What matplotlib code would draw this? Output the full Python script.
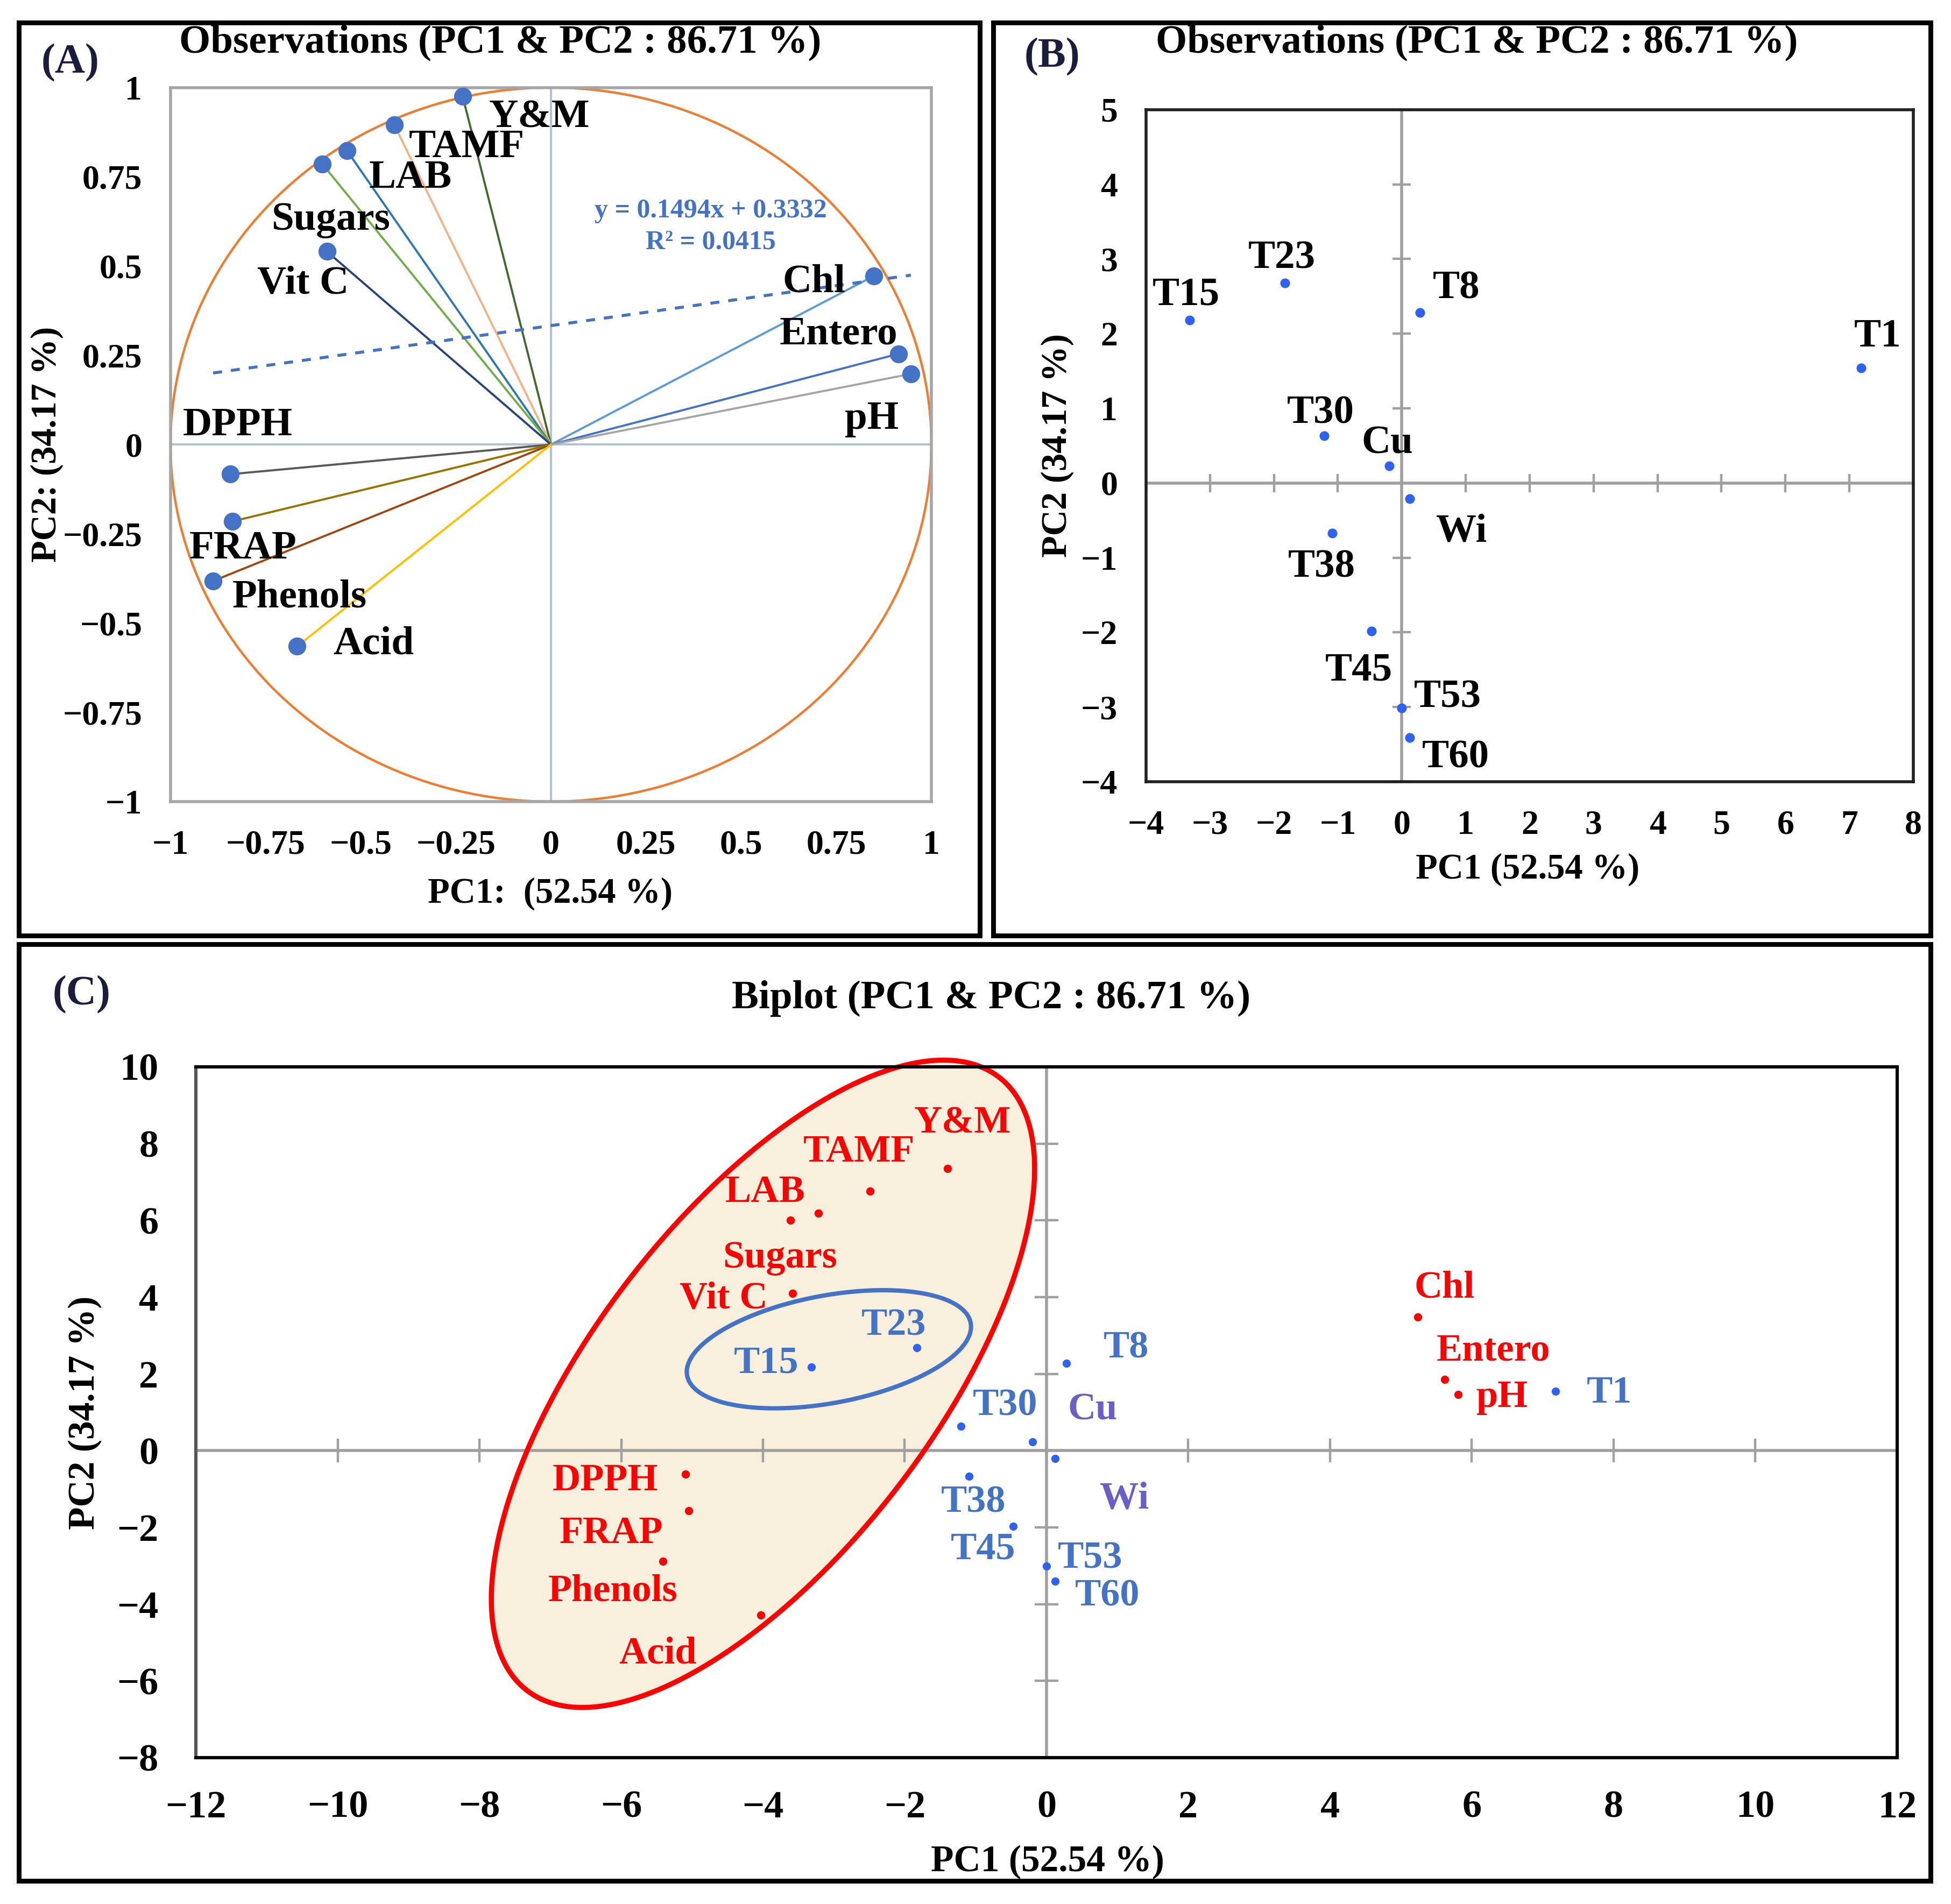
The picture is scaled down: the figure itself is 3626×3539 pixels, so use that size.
import numpy as np
import matplotlib.pyplot as plt
from matplotlib.patches import Rectangle, Polygon

plt.rcParams['font.family'] = ['Liberation Serif', 'DejaVu Serif']
plt.rcParams['font.weight'] = 'bold'
plt.rcParams['axes.unicode_minus'] = True

# ---- data ----
# variable loadings (correlation circle, panel A)
var_names = ['Y&M', 'TAMF', 'LAB', 'Sugars', 'Vit C', 'Chl', 'Entero', 'pH',
             'DPPH', 'FRAP', 'Phenols', 'Acid']
load_pc1 = [-0.232, -0.412, -0.536, -0.601, -0.589, 0.848, 0.913, 0.946,
            -0.843, -0.837, -0.888, -0.667]
load_pc2 = [0.975, 0.896, 0.823, 0.786, 0.541, 0.472, 0.254, 0.198,
            -0.083, -0.215, -0.382, -0.565]
trend_slope = 0.1494
trend_intercept = 0.3332
trend_r2 = 0.0415

# observation scores (panels B and C)
obs_names = ['T1', 'T8', 'T15', 'T23', 'T30', 'T38', 'T45', 'T53', 'T60', 'Cu', 'Wi']
obs_pc1 = [7.18, 0.28, -3.32, -1.83, -1.21, -1.09, -0.47, 0.00, 0.12, -0.20, 0.12]
obs_pc2 = [1.54, 2.28, 2.18, 2.68, 0.63, -0.67, -1.98, -3.01, -3.41, 0.23, -0.21]

# variables as placed in the biplot (panel C)
bi_pc1 = [-1.40, -2.49, -3.22, -3.61, -3.58, 5.24, 5.62, 5.81,
          -5.09, -5.05, -5.41, -4.03]
bi_pc2 = [7.35, 6.76, 6.18, 6.00, 4.09, 3.48, 1.85, 1.46,
          -0.61, -1.57, -2.88, -4.28]

pc1_txt = '52.54 %'
pc2_txt = '34.17 %'
tot_txt = '86.71 %'

# ---- styling / layout ----
vec_colors = ['#43682b', '#f4b183', '#2e75b6', '#70ad47', '#264478', '#5b9bd5',
              '#4472c4', '#a5a5a5', '#595959', '#997300', '#9e480e', '#ffc000']
# label offsets (data units) for panel A
a_off = {'Y&M': (0.069, -0.059), 'TAMF': (0.039, -0.064), 'LAB': (0.058, -0.076),
         'Sugars': (-0.134, -0.157), 'Vit C': (-0.183, -0.090), 'Chl': (-0.239, -0.017),
         'Entero': (-0.312, 0.054), 'pH': (-0.174, -0.127), 'DPPH': (-0.125, 0.137),
         'FRAP': (-0.114, -0.077), 'Phenols': (0.050, -0.046), 'Acid': (0.094, 0.005)}
b_off = {'T1': (-0.11, 0.42), 'T8': (0.20, 0.32), 'T15': (-0.58, 0.34),
         'T23': (-0.57, 0.33), 'T30': (-0.59, 0.30), 'T38': (-0.69, -0.46),
         'T45': (-0.73, -0.53), 'T53': (0.19, 0.14), 'T60': (0.20, -0.27),
         'Cu': (-0.43, 0.30), 'Wi': (0.42, -0.44)}
c_off_obs = {'T1': (0.44, -0.05), 'T8': (0.52, 0.38), 'T15': (-1.09, 0.10),
             'T23': (-0.78, 0.58), 'T30': (0.17, 0.54), 'T38': (-0.40, -0.69),
             'T45': (-0.88, -0.60), 'T53': (0.16, 0.20), 'T60': (0.28, -0.38),
             'Cu': (0.50, 0.82), 'Wi': (0.63, -1.05)}
c_off_var = {'Y&M': (-0.47, 1.18), 'TAMF': (-0.94, 1.02), 'LAB': (-1.31, 0.55),
             'Sugars': (-0.96, -0.99), 'Vit C': (-1.60, -0.13), 'Chl': (-0.05, 0.76),
             'Entero': (-0.12, 0.75), 'pH': (0.25, -0.07), 'DPPH': (-1.88, -0.18),
             'FRAP': (-1.82, -0.59), 'Phenols': (-1.62, -0.79), 'Acid': (-2.00, -1.02)}


def fmt(v):
    s = '{:g}'.format(v)
    return s.replace('-', '\u2212')


fig = plt.figure(figsize=(18.13, 17.695), dpi=200)

# panel frames
for (x0, y0, x1, y1) in [(0.0097, 0.5086, 0.5022, 0.988),
                         (0.509, 0.5086, 0.9895, 0.988),
                         (0.0097, 0.0122, 0.9895, 0.504)]:
    fig.add_artist(Rectangle((x0, y0), x1 - x0, y1 - y0, transform=fig.transFigure,
                             fill=False, ec='black', lw=3.2))

# ---------------- Panel A ----------------
axA = fig.add_axes([0.0874, 0.579, 0.39, 0.375])
axA.set_xlim(-1, 1)
axA.set_ylim(-1, 1)
for s in axA.spines.values():
    s.set_color('#a6a6a6')
    s.set_linewidth(2)
axA.axhline(0, color='#b4c0d4', lw=1.5, zorder=1)
axA.axvline(0, color='#b4c0d4', lw=1.5, zorder=1)
t = np.linspace(0, 2 * np.pi, 400)
axA.plot(np.cos(t), np.sin(t), color='#ed7d31', lw=1.6, zorder=2)
for x, y, c in zip(load_pc1, load_pc2, vec_colors):
    axA.plot([0, x], [0, y], color=c, lw=1.4, zorder=3)
axA.plot(load_pc1, load_pc2, 'o', color='#4472c4', ms=11, zorder=4)
tx = np.array([min(load_pc1), max(load_pc1)])
axA.plot(tx, trend_slope * tx + trend_intercept, ls=(0, (3, 3)), color='#4472c4', lw=2, zorder=3)
axA.text(0.42, 0.655, 'y = {}x + {}'.format(trend_slope, trend_intercept), color='#4472c4',
         fontsize=18, ha='center', va='center')
axA.text(0.42, 0.566, 'R\u00b2 = {}'.format(trend_r2), color='#4472c4',
         fontsize=18, ha='center', va='center')
for name, x, y in zip(var_names, load_pc1, load_pc2):
    dx, dy = a_off[name]
    axA.text(x + dx, y + dy, name, fontsize=27, ha='left', va='center', zorder=5)
a_ticks = [-1, -0.75, -0.5, -0.25, 0, 0.25, 0.5, 0.75, 1]
axA.set_xticks(a_ticks, [fmt(v) for v in a_ticks])
axA.set_yticks(a_ticks, [fmt(v) for v in a_ticks])
axA.tick_params(length=0, labelsize=23, pad=19)
fig.text(0.282, 0.5307, 'PC1:  ({})'.format(pc1_txt), fontsize=24, ha='center', va='center')
fig.text(0.024, 0.7665, 'PC2: ({})'.format(pc2_txt), fontsize=24, ha='center', va='center', rotation=90)
fig.text(0.2565, 0.9777, 'Observations (PC1 & PC2 : {})'.format(tot_txt), fontsize=27,
         ha='center', va='center')
fig.text(0.021, 0.967, '(A)', fontsize=28, ha='left', va='center', color='#1c1c3c')

# ---------------- Panel B ----------------
axB = fig.add_axes([0.5874, 0.5894, 0.3933, 0.353])
axB.set_xlim(-4, 8)
axB.set_ylim(-4, 5)
for s in axB.spines.values():
    s.set_color('#222222')
    s.set_linewidth(2)
axB.axhline(0, color='#a0a0a0', lw=2, zorder=1)
axB.axvline(0, color='#a0a0a0', lw=2, zorder=1)
b_xt = list(range(-4, 9))
b_yt = list(range(-4, 6))
axB.plot(b_xt, [0] * len(b_xt), ls='none', marker='|', ms=12, mew=1.6, color='#a0a0a0', zorder=1)
axB.plot([0] * len(b_yt), b_yt, ls='none', marker='_', ms=12, mew=1.6, color='#a0a0a0', zorder=1)
axB.plot(obs_pc1, obs_pc2, 'o', color='#2f62f2', ms=5.5, zorder=4)
for name, x, y in zip(obs_names, obs_pc1, obs_pc2):
    dx, dy = b_off[name]
    axB.text(x + dx, y + dy, name, fontsize=27, ha='left', va='center', zorder=5)
axB.set_xticks(b_xt, [fmt(v) for v in b_xt])
axB.set_yticks(b_yt, [fmt(v) for v in b_yt])
axB.tick_params(length=0, labelsize=23, pad=19)
fig.text(0.783, 0.5434, 'PC1 ({})'.format(pc1_txt), fontsize=24, ha='center', va='center')
fig.text(0.542, 0.766, 'PC2 ({})'.format(pc2_txt), fontsize=24, ha='center', va='center', rotation=90)
fig.text(0.757, 0.9777, 'Observations (PC1 & PC2 : {})'.format(tot_txt), fontsize=27,
         ha='center', va='center')
fig.text(0.525, 0.970, '(B)', fontsize=28, ha='left', va='center', color='#1c1c3c')

# ---------------- Panel C ----------------
axC = fig.add_axes([0.1004, 0.0769, 0.872, 0.3628])
axC.set_xlim(-12, 12)
axC.set_ylim(-8, 10)
for s in axC.spines.values():
    s.set_color('black')
    s.set_linewidth(2.2)
axC.spines['left'].set_color('#555555')

tt = np.linspace(0, 2 * np.pi, 500)
# red group ellipse (centre and conjugate semi-axes, data units)
rc, ru, rv = (-4.0, 1.74), (3.33, 7.99), (-1.896, 2.70)
red_pts = np.column_stack([rc[0] + ru[0] * np.cos(tt) + rv[0] * np.sin(tt),
                           rc[1] + ru[1] * np.cos(tt) + rv[1] * np.sin(tt)])
axC.add_patch(Polygon(red_pts, closed=True, fc='#f8f0dc', ec='none', zorder=0.5, clip_on=False))
axC.add_patch(Polygon(red_pts, closed=True, fill=False, ec='#ff0000', lw=3.4, zorder=2.5, clip_on=False))
# blue group ellipse
bc, bu, bv = (-3.07, 2.64), (2.0, 0.685), (-0.138, 1.378)
blue_pts = np.column_stack([bc[0] + bu[0] * np.cos(tt) + bv[0] * np.sin(tt),
                            bc[1] + bu[1] * np.cos(tt) + bv[1] * np.sin(tt)])
axC.add_patch(Polygon(blue_pts, closed=True, fill=False, ec='#4472c4', lw=2.9, zorder=2.6))

axC.axhline(0, color='#a0a0a0', lw=2, zorder=1)
axC.axvline(0, color='#a0a0a0', lw=2, zorder=1)
c_xt = list(range(-12, 13, 2))
c_yt = list(range(-8, 11, 2))
axC.plot(c_xt, [0] * len(c_xt), ls='none', marker='|', ms=16, mew=1.6, color='#a0a0a0', zorder=1)
axC.plot([0] * len(c_yt), c_yt, ls='none', marker='_', ms=16, mew=1.6, color='#a0a0a0', zorder=1)

axC.plot(bi_pc1, bi_pc2, 'o', color='#ff0000', ms=4.5, zorder=4)
axC.plot(obs_pc1, obs_pc2, 'o', color='#2f62f2', ms=4.5, zorder=4)
for name, x, y in zip(var_names, bi_pc1, bi_pc2):
    dx, dy = c_off_var[name]
    axC.text(x + dx, y + dy, name, fontsize=26, color='#ff0000', ha='left', va='center', zorder=5)
for name, x, y in zip(obs_names, obs_pc1, obs_pc2):
    dx, dy = c_off_obs[name]
    col = '#6a5fc8' if name in ('Cu', 'Wi') else '#4472c4'
    axC.text(x + dx, y + dy, name, fontsize=26, color=col, ha='left', va='center', zorder=5)
axC.set_xticks(c_xt, [fmt(v) for v in c_xt])
axC.set_yticks(c_yt, [fmt(v) for v in c_yt])
axC.tick_params(axis='x', length=0, labelsize=26, pad=22)
axC.tick_params(axis='y', length=0, labelsize=26, pad=25)
fig.text(0.537, 0.022, 'PC1 ({})'.format(pc1_txt), fontsize=25, ha='center', va='center')
fig.text(0.0435, 0.258, 'PC2 ({})'.format(pc2_txt), fontsize=25, ha='center', va='center', rotation=90)
fig.text(0.508, 0.4756, 'Biplot (PC1 & PC2 : {})'.format(tot_txt), fontsize=27,
         ha='center', va='center')
fig.text(0.027, 0.4775, '(C)', fontsize=28, ha='left', va='center', color='#1c1c3c')

fig.savefig('out.png', dpi=200, facecolor='white')
